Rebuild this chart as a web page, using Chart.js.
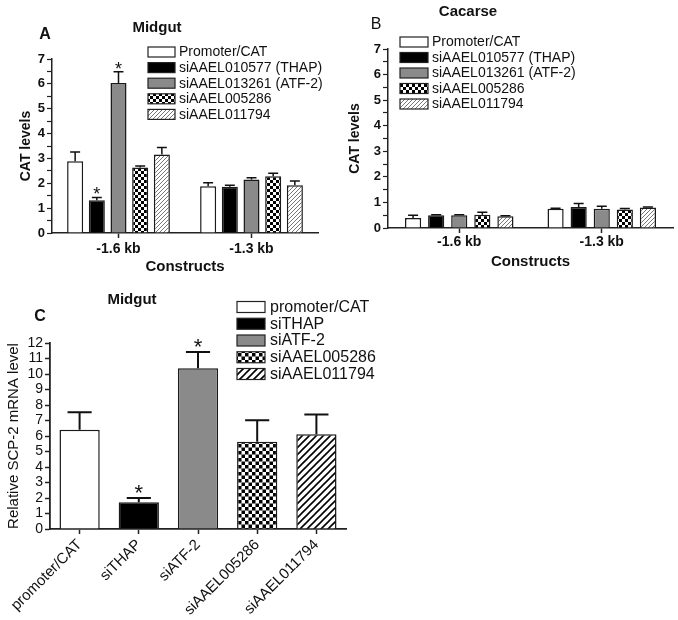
<!DOCTYPE html>
<html>
<head>
<meta charset="utf-8">
<script src="https://cdn.jsdelivr.net/npm/chart.js@4.4.0/dist/chart.umd.min.js"></script>
<style>
  body { margin: 0; background: #fff; }
  #wrap { position: relative; width: 678px; height: 620px; background: #fff; }
  canvas { position: absolute; }
</style>
</head>
<body>
<div id="wrap">
  <canvas id="chartA" width="340" height="290" style="left:0;top:0"></canvas>
  <canvas id="chartB" width="338" height="290" style="left:340px;top:0"></canvas>
  <canvas id="chartC" width="460" height="330" style="left:0;top:290px"></canvas>
</div>
<script>
var FAMILY = '"Liberation Sans", Arial, sans-serif';

// panels A and B: CAT levels per construct
var constructs = ['-1.6 kb', '-1.3 kb'];
var sirnaNames = ['Promoter/CAT', 'siAAEL010577 (THAP)', 'siAAEL013261 (ATF-2)', 'siAAEL005286', 'siAAEL011794'];

// one row per siRNA, columns follow constructs
var midgutCat = [[2.89, 1.88], [1.32, 1.86], [6.03, 2.15], [2.64, 2.28], [3.16, 1.92]];
var midgutCatErr = [[0.37, 0.14], [0.11, 0.06], [0.46, 0.07], [0.06, 0.12], [0.28, 0.17]];
var midgutCatStar = [[false, false], [true, false], [true, false], [false, false], [false, false]];

var carcassCat = [[0.39, 0.75], [0.50, 0.82], [0.50, 0.75], [0.52, 0.72], [0.46, 0.80]];
var carcassCatErr = [[0.11, 0.02], [0.02, 0.14], [0.02, 0.10], [0.10, 0.04], [0.02, 0.02]];

// panel C: relative SCP-2 mRNA in midgut
var mrnaLabels = ['promoter/CAT', 'siTHAP', 'siATF-2', 'siAAEL005286', 'siAAEL011794'];
var mrnaLevel = [6.41, 1.72, 10.37, 5.63, 6.11];
var mrnaErr = [1.12, 0.28, 1.05, 1.38, 1.27];
var mrnaStar = [false, true, true, false, false];

Chart.defaults.font.family = FAMILY;
Chart.defaults.color = '#111';

function checkerPattern(cell) {
  var c = document.createElement('canvas');
  c.width = c.height = cell * 2;
  var g = c.getContext('2d');
  g.fillStyle = '#fff';
  g.fillRect(0, 0, cell * 2, cell * 2);
  g.fillStyle = '#000';
  g.fillRect(0, 0, cell, cell);
  g.fillRect(cell, cell, cell, cell);
  return g.createPattern(c, 'repeat');
}

function hatchPattern(step, color, width) {
  var c = document.createElement('canvas');
  c.width = c.height = step;
  var g = c.getContext('2d');
  g.fillStyle = '#fff';
  g.fillRect(0, 0, step, step);
  g.strokeStyle = color;
  g.lineWidth = width;
  g.beginPath();
  g.moveTo(0, step); g.lineTo(step, 0);
  g.moveTo(-step / 2, step / 2); g.lineTo(step / 2, -step / 2);
  g.moveTo(step / 2, step * 1.5); g.lineTo(step * 1.5, step / 2);
  g.stroke();
  return g.createPattern(c, 'repeat');
}

var GRAY = '#8a8a8a';
var fillsAB = ['#ffffff', '#000000', GRAY, checkerPattern(3), hatchPattern(4, '#777', 1)];
var fillsC = ['#ffffff', '#000000', GRAY, checkerPattern(3.5), hatchPattern(7, '#000', 1.6)];

function errorBarPlugin(style) {
  return {
    id: 'errorBars',
    afterDatasetsDraw: function(chart) {
      var ctx = chart.ctx;
      var yScale = chart.scales.y;
      ctx.save();
      ctx.strokeStyle = '#111';
      ctx.fillStyle = '#111';
      ctx.lineWidth = style.lineWidth;
      ctx.font = style.starFont + ' ' + FAMILY;
      ctx.textAlign = 'center';
      ctx.textBaseline = 'alphabetic';
      chart.data.datasets.forEach(function(ds, di) {
        chart.getDatasetMeta(di).data.forEach(function(bar, i) {
          var top = yScale.getPixelForValue(ds.data[i] + ds.errors[i]);
          var half = bar.width * style.capRatio / 2;
          ctx.beginPath();
          ctx.moveTo(bar.x, bar.y);
          ctx.lineTo(bar.x, top);
          ctx.moveTo(bar.x - half, top);
          ctx.lineTo(bar.x + half, top);
          ctx.stroke();
          if (ds.stars && ds.stars[i]) {
            ctx.fillText('*', bar.x, top + style.starShift);
          }
        });
      });
      ctx.restore();
    }
  };
}

function textPlugin(items) {
  return {
    id: 'panelText',
    afterDraw: function(chart) {
      var ctx = chart.ctx;
      ctx.save();
      ctx.fillStyle = '#111';
      ctx.textAlign = 'center';
      ctx.textBaseline = 'middle';
      items.forEach(function(it) {
        ctx.font = it.font + ' ' + FAMILY;
        ctx.fillText(it.text, it.x, it.y);
      });
      ctx.restore();
    }
  };
}

function legendPlugin(cfg) {
  return {
    id: 'boxLegend',
    afterDraw: function(chart) {
      var ds = chart.data.datasets;
      var items;
      if (ds.length > 1) {
        items = ds.map(function(d) { return { text: d.label, fill: d.backgroundColor }; });
      } else {
        items = chart.data.labels.map(function(l, i) { return { text: l, fill: ds[0].backgroundColor[i] }; });
      }
      var ctx = chart.ctx;
      ctx.save();
      ctx.font = cfg.font + ' ' + FAMILY;
      ctx.textBaseline = 'middle';
      ctx.textAlign = 'left';
      items.forEach(function(it, i) {
        var y = cfg.y + i * cfg.rowH;
        ctx.fillStyle = it.fill;
        ctx.fillRect(cfg.x, y - cfg.boxH / 2, cfg.boxW, cfg.boxH);
        ctx.strokeStyle = '#222';
        ctx.lineWidth = 1.2;
        ctx.strokeRect(cfg.x, y - cfg.boxH / 2, cfg.boxW, cfg.boxH);
        ctx.fillStyle = '#111';
        ctx.fillText(it.text, cfg.x + cfg.boxW + cfg.gap, y + 0.5);
      });
      ctx.restore();
    }
  };
}

function catLevelsChart(id, values, errs, stars, lay, texts, legend) {
  var datasets = sirnaNames.map(function(name, i) {
    return {
      label: name,
      data: values[i],
      errors: errs[i],
      stars: stars ? stars[i] : null,
      backgroundColor: fillsAB[i],
      borderColor: '#1a1a1a',
      borderWidth: 1.5,
      barPercentage: lay.barPct,
      categoryPercentage: lay.catPct
    };
  });
  return new Chart(document.getElementById(id), {
    type: 'bar',
    data: { labels: constructs, datasets: datasets },
    options: {
      responsive: false,
      animation: false,
      devicePixelRatio: 1,
      layout: { padding: { top: lay.padTop, right: lay.padRight, left: 0, bottom: 0 } },
      plugins: { legend: { display: false }, tooltip: { enabled: false } },
      scales: {
        x: {
          afterFit: function(s) { s.height = lay.xHeight; },
          grid: { offset: false, drawOnChartArea: false, tickLength: 5, tickColor: '#222', tickWidth: 1.5 },
          border: { color: '#222', width: 1.5 },
          ticks: { maxRotation: 0, padding: lay.tickPad, font: { size: 14, weight: 'bold' }, color: '#111' },
          title: { display: true, text: 'Constructs', font: { size: 15, weight: 'bold' }, padding: { top: 0, bottom: lay.xTitlePad }, color: '#111' }
        },
        y: {
          min: 0,
          max: 7,
          afterFit: function(s) { s.width = lay.yWidth; },
          grid: { drawOnChartArea: false, tickLength: 5, tickColor: '#222', tickWidth: 1.2 },
          border: { color: '#222', width: 1.5 },
          ticks: {
            stepSize: 0.5,
            autoSkip: false,
            maxTicksLimit: 20,
            padding: 2,
            font: { size: 13, weight: 'bold' },
            color: '#111',
            callback: function(v) { return v % 1 === 0 ? v : ''; }
          },
          title: { display: true, text: 'CAT levels', font: { size: 14, weight: 'bold' }, padding: { top: lay.yTitlePad, bottom: 0 }, color: '#111' }
        }
      }
    },
    plugins: [
      errorBarPlugin({ lineWidth: 1.5, capRatio: 0.62, starFont: '18px', starShift: 3 }),
      textPlugin(texts),
      legendPlugin(legend)
    ]
  });
}

catLevelsChart('chartA', midgutCat, midgutCatErr, midgutCatStar,
  { padTop: 59, padRight: 22, yWidth: 52, xHeight: 57, xTitlePad: 14, yTitlePad: 18, tickPad: 3, barPct: 0.74, catPct: 0.815 },
  [{ text: 'A', x: 45, y: 35, font: 'bold 16px' }, { text: 'Midgut', x: 157, y: 28, font: 'bold 15px' }],
  { x: 148, y: 52, boxW: 27, boxH: 10, rowH: 15.6, gap: 4, font: '14px' });

catLevelsChart('chartB', carcassCat, carcassCatErr, null,
  { padTop: 49, padRight: 5, yWidth: 48, xHeight: 62, xTitlePad: 19, yTitlePad: 7, tickPad: 1, barPct: 0.7, catPct: 0.81 },
  [{ text: 'B', x: 36, y: 25, font: '16px' }, { text: 'Cacarse', x: 128, y: 12, font: 'bold 15px' }],
  { x: 60, y: 42, boxW: 28, boxH: 10, rowH: 15.5, gap: 4, font: '14px' });

new Chart(document.getElementById('chartC'), {
  type: 'bar',
  data: {
    labels: mrnaLabels,
    datasets: [{
      label: 'Relative SCP-2 mRNA level',
      data: mrnaLevel,
      errors: mrnaErr,
      stars: mrnaStar,
      backgroundColor: fillsC,
      borderColor: '#1a1a1a',
      borderWidth: 1.5,
      barPercentage: 0.68,
      categoryPercentage: 1
    }]
  },
  options: {
    responsive: false,
    animation: false,
    devicePixelRatio: 1,
    layout: { padding: { top: 53, right: 114, left: 0, bottom: 0 } },
    plugins: { legend: { display: false }, tooltip: { enabled: false } },
    scales: {
      x: {
        afterFit: function(s) { s.height = 91; },
        grid: { offset: false, drawOnChartArea: false, tickLength: 5, tickColor: '#222', tickWidth: 1.5 },
        border: { color: '#222', width: 1.8 },
        ticks: { minRotation: 45, maxRotation: 45, padding: 2, font: { size: 15 }, color: '#111' }
      },
      y: {
        min: 0,
        max: 12,
        afterFit: function(s) { s.width = 50; },
        grid: { drawOnChartArea: false, tickLength: 5, tickColor: '#222', tickWidth: 1.5 },
        border: { color: '#222', width: 1.8 },
        ticks: { stepSize: 1, autoSkip: false, padding: 2, font: { size: 14 }, color: '#111' },
        title: { display: true, text: 'Relative SCP-2 mRNA level', font: { size: 15 }, padding: { top: 5, bottom: 0 }, color: '#111' }
      }
    }
  },
  plugins: [
    errorBarPlugin({ lineWidth: 2, capRatio: 0.6, starFont: '22px', starShift: 2 }),
    textPlugin([{ text: 'C', x: 40, y: 27, font: 'bold 16px' }, { text: 'Midgut', x: 132, y: 10, font: 'bold 15px' }]),
    legendPlugin({ x: 237, y: 17, boxW: 28, boxH: 11, rowH: 16.75, gap: 5, font: '16px' })
  ]
});
</script>
</body>
</html>
